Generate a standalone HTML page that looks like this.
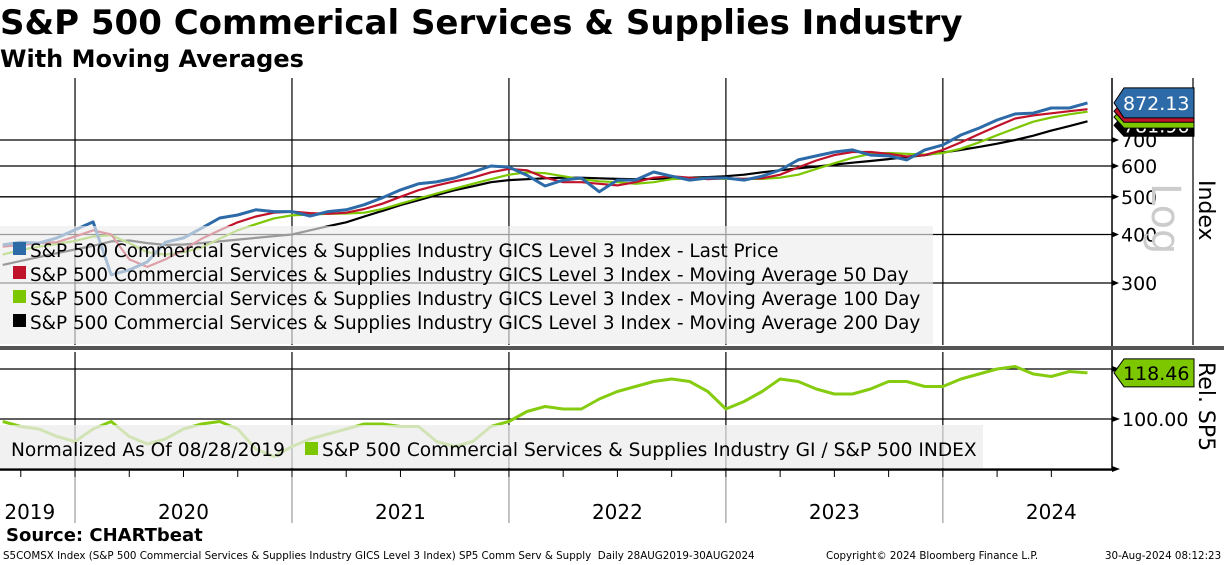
<!DOCTYPE html>
<html><head><meta charset="utf-8">
<style>
body{margin:0;background:#fff;font-family:"Liberation Sans",sans-serif;}
#wrap{position:relative;width:1224px;height:565px;overflow:hidden;background:#fff;}
.t{position:absolute;white-space:nowrap;}
</style></head>
<body>
<div id="wrap">
<div class="t" style="left:0;top:3px;font-size:34px;font-weight:bold;font-family:'DejaVu Sans',sans-serif;">S&amp;P 500 Commerical Services &amp; Supplies Industry</div>
<div class="t" style="left:0;top:45px;font-size:24px;font-weight:bold;font-family:'DejaVu Sans',sans-serif;">With Moving Averages</div>
<svg id="svg" width="1224" height="565" style="position:absolute;left:0;top:0"></svg>
<div class="t" style="left:6px;top:525px;font-size:18px;font-weight:bold;font-family:'DejaVu Sans',sans-serif;">Source: CHARTbeat</div>
<div class="t" style="left:3px;top:550px;font-size:10.3px;font-family:'DejaVu Sans',sans-serif;">S5COMSX Index (S&amp;P 500 Commercial Services &amp; Supplies Industry GICS Level 3 Index) SP5 Comm Serv &amp; Supply&nbsp; Daily 28AUG2019-30AUG2024</div>
<div class="t" style="left:826px;top:550px;font-size:10.3px;font-family:'DejaVu Sans',sans-serif;">Copyright© 2024 Bloomberg Finance L.P.</div>
<div class="t" style="left:1105px;top:550px;font-size:10.3px;font-family:'DejaVu Sans',sans-serif;">30-Aug-2024 08:12:23</div>
</div>
<script>
// monthly data, index 0 = Sep 2019 ... 60 = end Aug 2024
const price=[376,382,380,392,411,431,315,324,340,382,392,415,441,449,463,458,458,446,458,463,477,497,521,540,546,559,579,600,596,568,533,552,559,515,552,552,579,565,552,559,559,552,565,586,622,637,652,660,640,637,622,660,680,721,751,788,817,821,846,846,872];
const ma50=[372,376,380,382,395,410,400,345,330,345,365,390,410,430,445,455,458,454,452,455,465,480,500,520,535,548,560,578,590,585,560,545,545,540,535,545,560,565,560,555,558,556,558,570,595,620,640,652,652,645,635,640,660,690,725,760,795,810,820,830,840];
const ma100=[355,365,372,378,385,395,398,380,360,355,360,370,390,410,425,440,448,450,452,453,455,465,480,495,510,525,540,555,570,578,575,565,555,548,545,540,545,555,558,558,556,556,556,560,570,590,610,630,645,648,645,642,648,665,690,720,750,780,800,815,828];
const ma200=[334,342,350,358,366,374,384,386,380,376,377,380,384,388,392,396,400,410,420,430,445,460,476,490,505,520,532,545,552,555,558,560,560,558,556,555,556,558,560,562,565,570,578,585,592,598,605,612,618,625,632,640,650,660,672,685,700,718,740,760,782];
const rel=[99,97,96,93,91,96,99,93,90,92,96,98,99,96,88,85,89,92,94,96,98,98,97,97,91,89,91,97,99,103,105,104,104,108,111,113,115,116,115,111,104,107,111,116,115,112,110,110,112,115,115,113,113,116,118,120,121,118,117,119,118.46];
const years=["2019","2020","2021","2022","2023","2024"];
const yearLabelMonth=[-4.5,4,16,28,40,52];
const priceTicks=[300,400,500,600,700];
const relTicks=[80,100,120];

const svg=document.getElementById('svg');
const NS='http://www.w3.org/2000/svg';
const FF='DejaVu Sans, sans-serif';
function mk(tag,attrs,parent){const e=document.createElementNS(NS,tag);for(const k in attrs)e.setAttribute(k,attrs[k]);(parent||svg).appendChild(e);return e;}
function xM(i){return 2.7+i*18.08;}
function yP(v){return 140+168.8*Math.log(700/v);}
function yR(v){return 419-(v-100)*2.5;}

priceTicks.forEach(v=>{
  const l=mk('line',{x1:0,x2:1112,y1:yP(v),y2:yP(v),stroke:'#000','stroke-width':1.3});
  
  
  const t=mk('text',{x:1121,y:yP(v)+7,'font-size':19,'font-family':FF});
  t.textContent=v;
  
  
  mk('path',{d:`M1112 ${yP(v)-3} L1119 ${yP(v)} L1112 ${yP(v)+3}Z`,fill:'#000'});
});
for(let k=1;k<years.length;k++){
  const x=xM(4+12*(k-1));
  const l=mk('line',{x1:x,x2:x,y1:78,y2:345,stroke:'#000','stroke-width':1.2});
  
  
  mk('line',{x1:x,x2:x,y1:352,y2:470,stroke:'#000','stroke-width':1.2});
  mk('line',{x1:x,x2:x,y1:470,y2:523,stroke:'#888','stroke-width':1});
}
for(let i=1;i<=60;i+=3){mk('line',{x1:xM(i),x2:xM(i),y1:470,y2:477,stroke:'#000','stroke-width':1});}
relTicks.forEach(v=>{
  const l=mk('line',{x1:0,x2:1112,y1:yR(v),y2:yR(v),stroke:'#000','stroke-width':1.3});
  
  
  mk('path',{d:`M1112 ${yR(v)-3} L1120 ${yR(v)} L1112 ${yR(v)+3}Z`,fill:'#000'});
});
const rt=mk('text',{x:1122,y:yR(100)+7,'font-size':19,'font-family':FF});
rt.textContent='100.00';


mk('line',{x1:1112,x2:1112,y1:78,y2:470,stroke:'#000','stroke-width':1.5});
mk('line',{x1:1193,x2:1193,y1:78,y2:345,stroke:'#000','stroke-width':1.2});
mk('line',{x1:0,x2:1112,y1:470,y2:470,stroke:'#000','stroke-width':1.5});
const sep=mk('rect',{x:0,y:346,width:1224,height:4,fill:'#555'});



function line(arr,yf,color,w,name){
  const d=arr.map((v,i)=>(i?'L':'M')+xM(i).toFixed(1)+' '+yf(v).toFixed(1)).join(' ');
  const p=mk('path',{d:d,fill:'none',stroke:color,'stroke-width':w,'stroke-linejoin':'round'});
  
  
}
line(ma200,yP,'#000',2.2,'ma200-line');
line(ma100,yP,'#7cc700',2.2,'ma100-line');
line(ma50,yP,'#c0132b',2.2,'ma50-line');
line(price,yP,'#2d6aa8',3,'price-line');
line(rel,yR,'#85cc10',3,'relative-line');

const lg=mk('rect',{x:0,y:226,width:933,height:118,fill:'rgba(236,236,236,0.65)'});


const legItems=[['#2d6aa8','Last Price'],['#c0132b','Moving Average 50 Day'],['#7cc700','Moving Average 100 Day'],['#000','Moving Average 200 Day']];
legItems.forEach((it,k)=>{
  const y=250+k*24;
  mk('rect',{x:13,y:y-8,width:13,height:13,fill:it[0]});
  const t=mk('text',{x:30,y:y+7,'font-size':18.4,'font-family':FF});
  t.textContent='S&P 500 Commercial Services & Supplies Industry GICS Level 3 Index - '+it[1];
  
  
});
const lg2=mk('rect',{x:0,y:425,width:983,height:43,fill:'rgba(236,236,236,0.75)'});


const n1=mk('text',{x:11,y:456,'font-size':18.6,'font-family':FF});
n1.textContent='Normalized As Of 08/28/2019';


mk('rect',{x:305,y:442,width:13,height:13,fill:'#7cc700'});
const n2=mk('text',{x:322,y:456,'font-size':18.6,'font-family':FF});
n2.textContent='S&P 500 Commercial Services & Supplies Industry GI / S&P 500 INDEX';



function tag(y,color,txt,tc,name,h){
  const g=mk('g',{});
  
  
  mk('path',{d:`M1114 ${y} L1124 ${y-h/2} L1194 ${y-h/2} L1194 ${y+h/2} L1124 ${y+h/2}Z`,fill:color,stroke:'#000','stroke-width':1},g);
  const t=mk('text',{x:1123,y:y+7,'font-size':19,fill:tc,'font-family':FF},g);
  t.textContent=txt;
}
tag(yP(782)+4,'#000','781.96','#fff','ma200-value-tag',22);
tag(yP(821)+4,'#7cc700','','#000','ma100-value-tag',22);
tag(yP(840)+2,'#c0132b','','#fff','ma50-value-tag',22);
tag(yP(872.13),'#2d6aa8','872.13','#fff','price-value-tag',30);
tag(yR(118.46),'#7cc700','118.46','#000','relative-value-tag',28);

const lgT=mk('text',{x:1152,y:183,'font-size':40,fill:'#ccc','font-family':FF,transform:'rotate(90 1152 183)'});
lgT.textContent='Log';


const ix=mk('text',{x:1199,y:180,'font-size':22,'font-family':FF,transform:'rotate(90 1199 180)'});
ix.textContent='Index';


const rs=mk('text',{x:1199,y:362,'font-size':22,'font-family':FF,transform:'rotate(90 1199 362)'});
rs.textContent='Rel. SP5';



years.forEach((y,k)=>{
  const t=mk('text',{x:xM(yearLabelMonth[k]+6),y:519,'font-size':20,'text-anchor':'middle','font-family':FF});
  t.textContent=y;
  
  
});
</script>
</body></html>
